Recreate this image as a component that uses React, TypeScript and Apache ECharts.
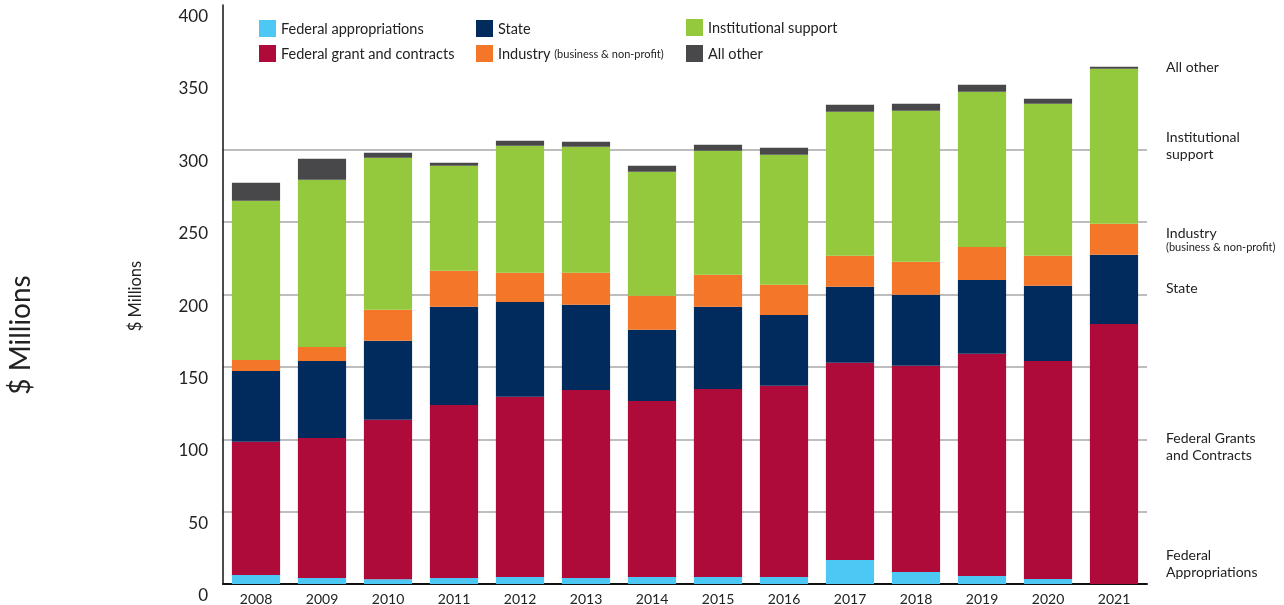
import React, { useEffect, useRef } from "react";
import * as echarts from "echarts";

const years = ["2008", "2009", "2010", "2011", "2012", "2013", "2014", "2015", "2016", "2017", "2018", "2019", "2020", "2021"];

const federalAppropriations = [6.2, 4.1, 3.2, 4.1, 4.8, 4.1, 4.8, 4.8, 4.8, 16.6, 8.3, 5.5, 3.5, 0];
const federalGrants = [92.0, 96.8, 110.2, 119.6, 124.5, 130.0, 121.7, 130.0, 132.1, 136.2, 142.4, 153.5, 150.6, 179.7];
const stateFunds = [49.0, 53.2, 54.6, 67.8, 65.6, 58.8, 49.1, 56.7, 49.0, 52.5, 49.1, 51.1, 51.9, 47.7];
const industry = [7.6, 9.7, 21.4, 24.9, 20.1, 22.1, 23.5, 22.1, 20.8, 21.4, 22.8, 22.8, 20.7, 21.4];
const institutional = [109.9, 115.5, 105.1, 72.5, 87.8, 87.1, 85.7, 85.7, 89.8, 99.6, 104.4, 107.2, 105.1, 107.2];
const allOther = [12.5, 14.5, 3.4, 2.1, 3.4, 3.4, 4.1, 4.2, 4.9, 4.8, 4.8, 4.8, 3.4, 1.4];

const seriesNames = [
  "Federal appropriations",
  "Federal grant and contracts",
  "State",
  "Industry",
  "Institutional support",
  "All other",
];
const seriesColors = ["#4DC8F4", "#AE0A3A", "#002B5C", "#F37629", "#95C93D", "#48484A"];
const seriesData = [federalAppropriations, federalGrants, stateFunds, industry, institutional, allOther];

const FONT = "Lato, 'Open Sans', sans-serif";
const TEXT = "#222";

const rightLabels = [
  { lines: ["All other"], y: 66 },
  { lines: ["Institutional", "support"], y: 145 },
  { lines: ["Industry"], y: 232 },
  { lines: ["State"], y: 287 },
  { lines: ["Federal Grants", "and Contracts"], y: 446 },
  { lines: ["Federal", "Appropriations"], y: 563 },
];

const legendPos = [
  { left: 259, top: 20 },
  { left: 259, top: 45 },
  { left: 476, top: 20 },
  { left: 476, top: 45 },
  { left: 686, top: 19 },
  { left: 686, top: 45 },
];

export default function App() {
  const ref = useRef<HTMLDivElement>(null);
  useEffect(() => {
    if (!ref.current) return;
    const chart = echarts.init(ref.current, null, { renderer: "svg" });

    const graphics: any[] = [
      {
        type: "text",
        x: 19,
        y: 335,
        rotation: Math.PI / 2,
        style: { text: "$ Millions", fontSize: 28, fontFamily: FONT, fill: TEXT, align: "center", verticalAlign: "middle" },
      },
      {
        type: "text",
        x: 135,
        y: 296,
        rotation: Math.PI / 2,
        style: { text: "$ Millions", fontSize: 16.5, fontFamily: FONT, fill: TEXT, align: "center", verticalAlign: "middle" },
      },
    ];
    rightLabels.forEach((l) => {
      graphics.push({
        type: "text",
        x: 1166,
        y: l.y,
        style: {
          text: l.lines.join("\n"),
          fontSize: 14,
          lineHeight: 17,
          fontFamily: FONT,
          fill: TEXT,
          align: "left",
          verticalAlign: "middle",
        },
      });
    });
    graphics.push({
      type: "text",
      x: 1166,
      y: 246,
      style: { text: "(business & non-profit)", fontSize: 11, fontFamily: FONT, fill: TEXT, align: "left", verticalAlign: "middle" },
    });

    const gridColors = ["#bdbdbd", "#bdbdbd", "#bdbdbd", "#bdbdbd", "#bdbdbd", "#bdbdbd", "#bdbdbd", "rgba(0,0,0,0)", "rgba(0,0,0,0)"];

    chart.setOption({
      animation: false,
      textStyle: { fontFamily: FONT },
      grid: { left: 223, right: 137, top: 5, bottom: 21, containLabel: false },
      legend: seriesNames.map((n, i) => ({
        data: [n],
        left: legendPos[i].left,
        top: legendPos[i].top,
        padding: 0,
        itemWidth: 17,
        itemHeight: 17,
        icon: "rect",
        selectedMode: true,
        formatter: (name: string) => (name === "Industry" ? "{a|Industry} {b|(business & non-profit)}" : name),
        textStyle: {
          fontSize: 14.5,
          color: TEXT,
          fontFamily: FONT,
          rich: {
            a: { fontSize: 14.5, color: TEXT, fontFamily: FONT },
            b: { fontSize: 11, color: TEXT, fontFamily: FONT },
          },
        },
      })),
      xAxis: {
        type: "category",
        data: years,
        axisLine: { show: true, lineStyle: { color: "#111", width: 2 } },
        axisTick: { show: false },
        axisLabel: { fontSize: 14, color: TEXT, margin: 7, fontFamily: FONT },
      },
      yAxis: {
        type: "value",
        min: 0,
        max: 400,
        interval: 50,
        axisLine: { show: true, lineStyle: { color: "#111", width: 1.5 } },
        axisTick: { show: false },
        axisLabel: { fontSize: 17, color: TEXT, margin: 15, fontFamily: FONT, verticalAlign: "top", padding: [2, 0, 0, 0] },
        splitLine: { show: true, lineStyle: { color: gridColors, width: 2 } },
      },
      graphic: graphics,
      series: seriesNames.map((n, i) => ({
        name: n,
        type: "bar",
        stack: "total",
        barCategoryGap: "27%",
        data: seriesData[i],
        itemStyle: { color: seriesColors[i] },
      })),
    });
    return () => chart.dispose();
  }, []);
  return <div ref={ref} style={{ position: "fixed", left: 0, top: 0, width: 1284, height: 605 }} />;
}
